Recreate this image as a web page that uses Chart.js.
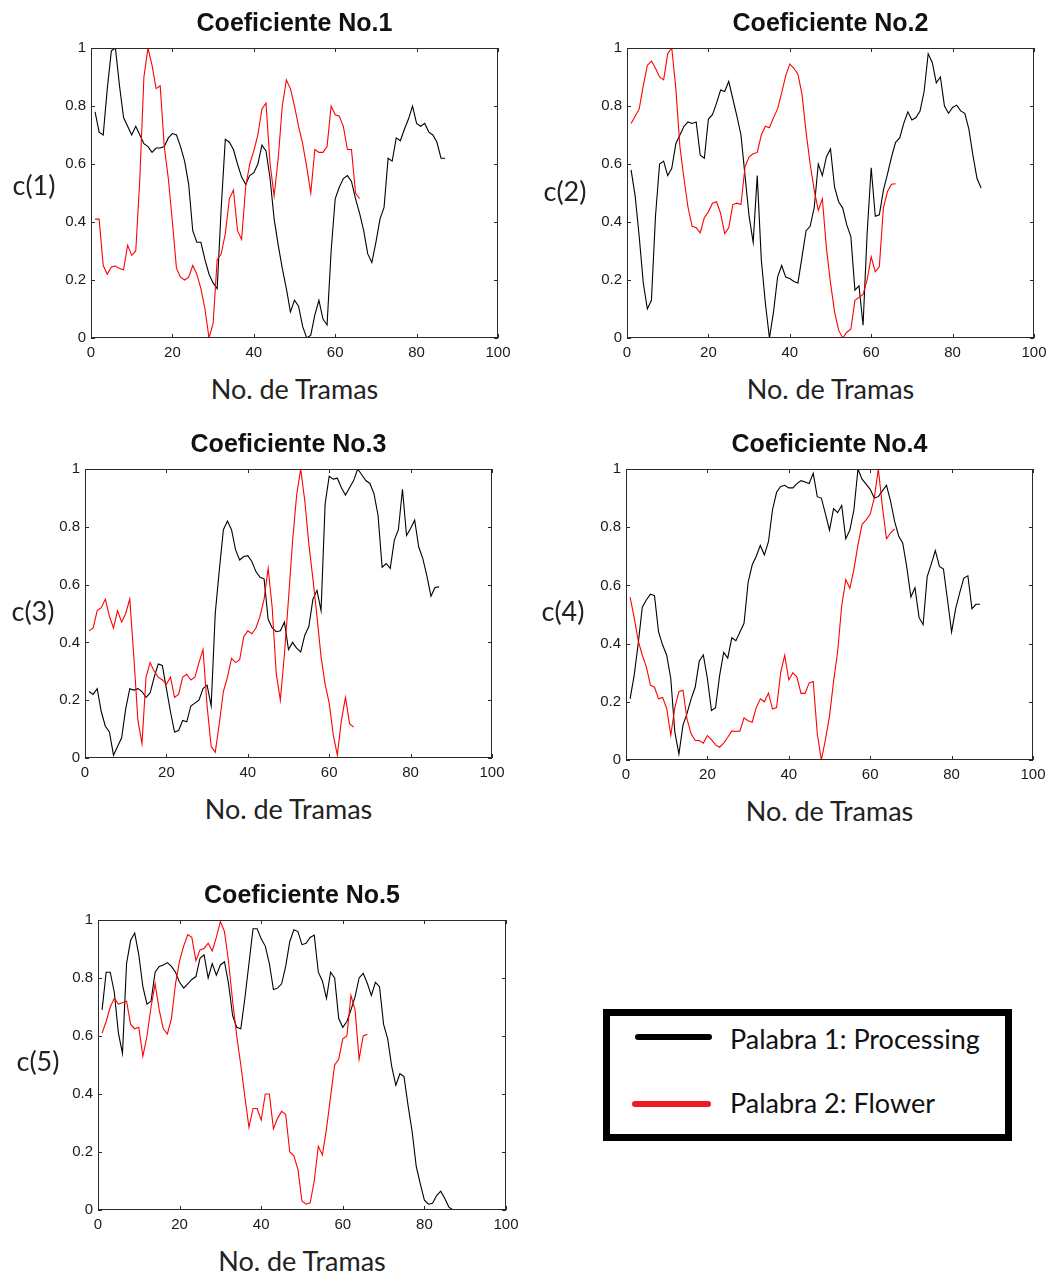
<!DOCTYPE html>
<html lang="es">
<head>
<meta charset="utf-8">
<title>Coeficientes por trama</title>
<script src="https://cdn.jsdelivr.net/npm/chart.js@4.4.1/dist/chart.umd.min.js"></script>
<style>
  html, body { margin: 0; padding: 0; background: #fff; }
  body { position: relative; width: 1053px; height: 1278px; overflow: hidden; }
  canvas { position: absolute; }
  .titulo {
    position: absolute; transform: translate(-50%, -50%);
    font: bold 25px "Liberation Sans", Arial, sans-serif; color: #111; white-space: nowrap;
  }
  .etiqueta {
    position: absolute; transform: translate(-50%, -50%);
    font: 27px Lato, "Open Sans", sans-serif; color: #222; white-space: nowrap;
  }
  .leyenda {
    position: absolute; left: 603px; top: 1009px; width: 409px; height: 132px;
    box-sizing: border-box; border: 7px solid #000; background: #fff;
  }
  .leyenda .muestra { position: absolute; height: 6px; border-radius: 3px; }
  .leyenda .texto {
    position: absolute; transform: translateY(-50%);
    font: 27px Lato, "Open Sans", sans-serif; color: #111; white-space: nowrap;
  }
</style>
</head>
<body>
<script>
// =====================================================
// DATOS — coeficientes normalizados por trama
// =====================================================
const coef1Processing = [
  0.78, 0.71, 0.70, 0.86, 0.99, 1.00, 0.87, 0.76, 0.73, 0.70,
  0.73, 0.70, 0.67, 0.66, 0.64, 0.655, 0.655, 0.66, 0.69, 0.705,
  0.70, 0.66, 0.61, 0.53, 0.37, 0.33, 0.33, 0.27, 0.22, 0.19,
  0.17, 0.45, 0.685, 0.675, 0.65, 0.60, 0.555, 0.53, 0.56, 0.57,
  0.60, 0.665, 0.645, 0.55, 0.41, 0.32, 0.24, 0.17, 0.09, 0.13,
  0.11, 0.04, 0.00, 0.01, 0.08, 0.13, 0.065, 0.045, 0.30, 0.48,
  0.52, 0.55, 0.56, 0.54, 0.48, 0.43, 0.37, 0.29, 0.26, 0.33,
  0.41, 0.45, 0.62, 0.61, 0.69, 0.68, 0.72, 0.755, 0.80, 0.74,
  0.73, 0.74, 0.71, 0.70, 0.675, 0.62, 0.62
];
const coef1Flower = [
  0.41, 0.41, 0.25, 0.22, 0.245, 0.248, 0.24, 0.235, 0.32, 0.285,
  0.30, 0.55, 0.90, 1.00, 0.94, 0.86, 0.87, 0.66, 0.55, 0.40,
  0.24, 0.21, 0.20, 0.21, 0.25, 0.22, 0.17, 0.10, 0.00, 0.05,
  0.27, 0.29, 0.36, 0.48, 0.51, 0.37, 0.34, 0.52, 0.60, 0.645,
  0.70, 0.79, 0.81, 0.60, 0.49, 0.62, 0.80, 0.89, 0.86, 0.80,
  0.73, 0.67, 0.59, 0.50, 0.65, 0.64, 0.64, 0.66, 0.80, 0.77,
  0.765, 0.73, 0.65, 0.65, 0.50, 0.48
];

const coef2Processing = [
  0.58, 0.49, 0.35, 0.19, 0.10, 0.13, 0.42, 0.60, 0.61, 0.56,
  0.585, 0.67, 0.70, 0.73, 0.745, 0.74, 0.745, 0.63, 0.62, 0.755,
  0.77, 0.81, 0.855, 0.85, 0.885, 0.825, 0.765, 0.70, 0.56, 0.42,
  0.33, 0.56, 0.27, 0.12, 0.00, 0.09, 0.21, 0.25, 0.21, 0.205,
  0.195, 0.19, 0.28, 0.37, 0.385, 0.45, 0.60, 0.56, 0.625, 0.652,
  0.52, 0.47, 0.448, 0.39, 0.35, 0.165, 0.18, 0.044, 0.36, 0.587,
  0.42, 0.425, 0.51, 0.565, 0.625, 0.675, 0.69, 0.74, 0.78, 0.752,
  0.76, 0.783, 0.85, 0.98, 0.95, 0.88, 0.90, 0.80, 0.775, 0.795,
  0.803, 0.783, 0.775, 0.72, 0.63, 0.55, 0.517
];
const coef2Flower = [
  0.74, 0.765, 0.79, 0.87, 0.94, 0.955, 0.93, 0.90, 0.89, 0.98,
  1.00, 0.86, 0.66, 0.55, 0.45, 0.385, 0.38, 0.363, 0.415, 0.435,
  0.465, 0.47, 0.43, 0.36, 0.38, 0.46, 0.465, 0.46, 0.59, 0.625,
  0.635, 0.64, 0.70, 0.73, 0.725, 0.76, 0.79, 0.845, 0.905, 0.945,
  0.93, 0.91, 0.84, 0.71, 0.60, 0.51, 0.44, 0.48, 0.31, 0.19,
  0.09, 0.027, 0.00, 0.02, 0.03, 0.13, 0.14, 0.15, 0.20, 0.28,
  0.228, 0.246, 0.45, 0.505, 0.53, 0.532
];

const coef3Processing = [
  0.23, 0.22, 0.24, 0.16, 0.11, 0.09, 0.01, 0.04, 0.07, 0.17,
  0.24, 0.235, 0.24, 0.23, 0.21, 0.225, 0.28, 0.325, 0.32, 0.24,
  0.16, 0.09, 0.095, 0.13, 0.125, 0.18, 0.19, 0.20, 0.24, 0.252,
  0.18, 0.50, 0.65, 0.79, 0.82, 0.79, 0.72, 0.685, 0.697, 0.70,
  0.68, 0.645, 0.625, 0.62, 0.48, 0.45, 0.437, 0.44, 0.47, 0.375,
  0.40, 0.38, 0.367, 0.425, 0.455, 0.55, 0.58, 0.51, 0.88, 0.975,
  0.965, 0.968, 0.935, 0.91, 0.935, 0.96, 1.00, 0.98, 0.96, 0.95,
  0.915, 0.84, 0.66, 0.673, 0.656, 0.754, 0.79, 0.93, 0.77, 0.794,
  0.823, 0.73, 0.69, 0.63, 0.56, 0.59, 0.592
];
const coef3Flower = [
  0.44, 0.45, 0.51, 0.52, 0.55, 0.49, 0.45, 0.51, 0.47, 0.50,
  0.55, 0.35, 0.13, 0.05, 0.28, 0.33, 0.30, 0.28, 0.27, 0.255,
  0.28, 0.21, 0.22, 0.28, 0.29, 0.27, 0.28, 0.33, 0.375, 0.18,
  0.04, 0.02, 0.12, 0.23, 0.28, 0.345, 0.33, 0.34, 0.42, 0.44,
  0.43, 0.45, 0.49, 0.55, 0.656, 0.52, 0.29, 0.20, 0.36, 0.55,
  0.75, 0.91, 1.00, 0.89, 0.74, 0.62, 0.49, 0.35, 0.255, 0.19,
  0.08, 0.01, 0.13, 0.21, 0.119, 0.107
];

const coef4Processing = [
  0.21, 0.29, 0.40, 0.525, 0.55, 0.57, 0.565, 0.44, 0.395, 0.36,
  0.28, 0.096, 0.02, 0.12, 0.16, 0.21, 0.25, 0.34, 0.361, 0.28,
  0.17, 0.18, 0.29, 0.37, 0.35, 0.42, 0.41, 0.44, 0.47, 0.61,
  0.67, 0.70, 0.737, 0.705, 0.75, 0.86, 0.92, 0.94, 0.944, 0.935,
  0.935, 0.95, 0.96, 0.955, 0.95, 0.985, 0.905, 0.90, 0.846, 0.79,
  0.864, 0.85, 0.875, 0.76, 0.79, 0.86, 1.00, 0.965, 0.948, 0.93,
  0.90, 0.905, 0.925, 0.944, 0.89, 0.82, 0.77, 0.745, 0.662, 0.56,
  0.592, 0.49, 0.465, 0.63, 0.673, 0.72, 0.665, 0.656, 0.55, 0.44,
  0.52, 0.575, 0.625, 0.633, 0.52, 0.535, 0.535
];
const coef4Flower = [
  0.56, 0.49, 0.41, 0.36, 0.32, 0.257, 0.25, 0.21, 0.215, 0.177,
  0.085, 0.18, 0.235, 0.24, 0.14, 0.09, 0.067, 0.067, 0.058, 0.084,
  0.07, 0.052, 0.044, 0.058, 0.078, 0.10, 0.098, 0.10, 0.145, 0.135,
  0.13, 0.18, 0.21, 0.20, 0.23, 0.175, 0.18, 0.30, 0.36, 0.275,
  0.30, 0.285, 0.229, 0.229, 0.265, 0.27, 0.09, 0.00, 0.07, 0.15,
  0.27, 0.373, 0.53, 0.62, 0.59, 0.655, 0.74, 0.81, 0.825, 0.845,
  0.90, 1.00, 0.87, 0.76, 0.78, 0.794
];

const coef5Processing = [
  0.69, 0.82, 0.82, 0.75, 0.61, 0.54, 0.85, 0.93, 0.955, 0.88,
  0.77, 0.71, 0.72, 0.82, 0.84, 0.845, 0.853, 0.84, 0.82, 0.785,
  0.765, 0.78, 0.795, 0.805, 0.868, 0.88, 0.80, 0.85, 0.81, 0.845,
  0.856, 0.78, 0.67, 0.63, 0.625, 0.73, 0.85, 0.97, 0.97, 0.935,
  0.91, 0.85, 0.76, 0.765, 0.78, 0.84, 0.925, 0.966, 0.96, 0.915,
  0.92, 0.94, 0.948, 0.82, 0.79, 0.73, 0.82, 0.80, 0.66, 0.63,
  0.65, 0.69, 0.735, 0.80, 0.816, 0.782, 0.74, 0.785, 0.77, 0.64,
  0.59, 0.494, 0.43, 0.47, 0.46, 0.36, 0.27, 0.15, 0.09, 0.034,
  0.02, 0.023, 0.05, 0.065, 0.04, 0.01, 0.00
];
const coef5Flower = [
  0.61, 0.65, 0.70, 0.73, 0.71, 0.715, 0.72, 0.64, 0.625, 0.63,
  0.53, 0.60, 0.70, 0.78, 0.69, 0.625, 0.607, 0.66, 0.78, 0.86,
  0.91, 0.95, 0.94, 0.86, 0.897, 0.902, 0.92, 0.893, 0.94, 0.995,
  0.96, 0.856, 0.72, 0.60, 0.50, 0.39, 0.285, 0.35, 0.35, 0.31,
  0.40, 0.40, 0.28, 0.316, 0.34, 0.33, 0.20, 0.187, 0.14, 0.03,
  0.02, 0.025, 0.10, 0.22, 0.19, 0.28, 0.39, 0.50, 0.52, 0.59,
  0.60, 0.74, 0.69, 0.52, 0.60, 0.606
];

const titulos = ["Coeficiente No.1", "Coeficiente No.2", "Coeficiente No.3", "Coeficiente No.4", "Coeficiente No.5"];
const etiquetasY = ["c(1)", "c(2)", "c(3)", "c(4)", "c(5)"];
const etiquetaX = "No. de Tramas";
const ticksX = [0, 20, 40, 60, 80, 100];
const ticksY = [0, 0.2, 0.4, 0.6, 0.8, 1];
const nombresPalabras = ["Palabra 1: Processing", "Palabra 2: Flower"];

const seriesProcessing = [coef1Processing, coef2Processing, coef3Processing, coef4Processing, coef5Processing];
const seriesFlower = [coef1Flower, coef2Flower, coef3Flower, coef4Flower, coef5Flower];

// =====================================================
// DISPOSICIÓN — área de trazado de cada panel (px)
// =====================================================
const paneles = [
  { area: [91, 48, 498, 338],   etqY: [34, 184] },
  { area: [627, 48, 1034, 338], etqY: [565, 190] },
  { area: [85, 469, 492, 758],  etqY: [33, 610] },
  { area: [626, 469, 1033, 760], etqY: [563, 610] },
  { area: [98, 920, 506, 1210], etqY: [38, 1060] }
];

const ANCHO_EJE_Y = 50;
const ALTO_EJE_X = 30;
const MARGEN_SUP = 14;
const MARGEN_DER = 22;
const FUENTE_TICKS = { family: "'Liberation Sans', Arial, sans-serif", size: 15 };

// caja cerrada con marcas hacia dentro en los cuatro lados
const marcoCaja = {
  id: "marcoCaja",
  afterDatasetsDraw(chart) {
    const { ctx, chartArea: a, scales: { x, y } } = chart;
    const largo = 4;
    ctx.save();
    ctx.strokeStyle = "#2a2a2a";
    ctx.lineWidth = 1;
    ctx.strokeRect(a.left + 0.5, a.top + 0.5, a.right - a.left - 1, a.bottom - a.top - 1);
    ctx.beginPath();
    x.ticks.forEach(t => {
      const px = Math.round(x.getPixelForValue(t.value)) + 0.5;
      ctx.moveTo(px, a.bottom); ctx.lineTo(px, a.bottom - largo);
      ctx.moveTo(px, a.top); ctx.lineTo(px, a.top + largo);
    });
    y.ticks.forEach(t => {
      const py = Math.round(y.getPixelForValue(t.value)) + 0.5;
      ctx.moveTo(a.left, py); ctx.lineTo(a.left + largo, py);
      ctx.moveTo(a.right, py); ctx.lineTo(a.right - largo, py);
    });
    ctx.stroke();
    ctx.restore();
  }
};

function aPuntos(valores) {
  return valores.map((v, i) => ({ x: i + 1, y: v }));
}

function agregarTexto(clase, texto, x, y) {
  const el = document.createElement("div");
  el.className = clase;
  el.textContent = texto;
  el.style.left = x + "px";
  el.style.top = y + "px";
  document.body.appendChild(el);
}

// =====================================================
// PANELES
// =====================================================
paneles.forEach((p, i) => {
  const [L, T, R, B] = p.area;
  const canvas = document.createElement("canvas");
  canvas.width = (R - L) + ANCHO_EJE_Y + MARGEN_DER;
  canvas.height = (B - T) + MARGEN_SUP + ALTO_EJE_X;
  canvas.style.left = (L - ANCHO_EJE_Y) + "px";
  canvas.style.top = (T - MARGEN_SUP) + "px";
  document.body.appendChild(canvas);

  new Chart(canvas, {
    type: "line",
    data: {
      datasets: [
        {
          label: nombresPalabras[1],
          data: aPuntos(seriesFlower[i]),
          borderColor: "#ff0000",
          borderWidth: 1.1,
          pointRadius: 0,
          tension: 0,
          order: 0
        },
        {
          label: nombresPalabras[0],
          data: aPuntos(seriesProcessing[i]),
          borderColor: "#000000",
          borderWidth: 1.1,
          pointRadius: 0,
          tension: 0,
          order: 1
        }
      ]
    },
    options: {
      responsive: false,
      devicePixelRatio: 1,
      animation: false,
      layout: { padding: { left: 0, top: MARGEN_SUP, right: MARGEN_DER, bottom: 0 } },
      plugins: { legend: { display: false }, tooltip: { enabled: false } },
      scales: {
        x: {
          type: "linear",
          min: ticksX[0],
          max: ticksX[ticksX.length - 1],
          afterBuildTicks: s => { s.ticks = ticksX.map(v => ({ value: v })); },
          afterFit: s => { s.height = ALTO_EJE_X; },
          grid: { display: false, drawTicks: false },
          border: { display: false },
          ticks: { color: "#1a1a1a", font: FUENTE_TICKS, padding: 6, maxRotation: 0 }
        },
        y: {
          type: "linear",
          min: ticksY[0],
          max: ticksY[ticksY.length - 1],
          afterBuildTicks: s => { s.ticks = ticksY.map(v => ({ value: v })); },
          afterFit: s => { s.width = ANCHO_EJE_Y; },
          grid: { display: false, drawTicks: false },
          border: { display: false },
          ticks: {
            color: "#1a1a1a",
            font: FUENTE_TICKS,
            padding: 5,
            callback: v => String(Number(v.toFixed(1)))
          }
        }
      }
    },
    plugins: [marcoCaja]
  });

  const centroX = (L + R) / 2;
  agregarTexto("titulo", titulos[i], centroX, T - 26);
  agregarTexto("etiqueta", etiquetaX, centroX, B + 50);
  agregarTexto("etiqueta", etiquetasY[i], p.etqY[0], p.etqY[1]);
});

// =====================================================
// LEYENDA
// =====================================================
const leyenda = document.createElement("div");
leyenda.className = "leyenda";
[
  { color: "#000000", linea: [25, 18, 77], texto: [120, 22] },
  { color: "#ed1c24", linea: [22, 85, 79], texto: [120, 86] }
].forEach((item, k) => {
  const m = document.createElement("span");
  m.className = "muestra";
  m.style.background = item.color;
  m.style.left = item.linea[0] + "px";
  m.style.top = item.linea[1] + "px";
  m.style.width = item.linea[2] + "px";
  leyenda.appendChild(m);

  const t = document.createElement("span");
  t.className = "texto";
  t.textContent = nombresPalabras[k];
  t.style.left = item.texto[0] + "px";
  t.style.top = item.texto[1] + "px";
  leyenda.appendChild(t);
});
document.body.appendChild(leyenda);
</script>
</body>
</html>
